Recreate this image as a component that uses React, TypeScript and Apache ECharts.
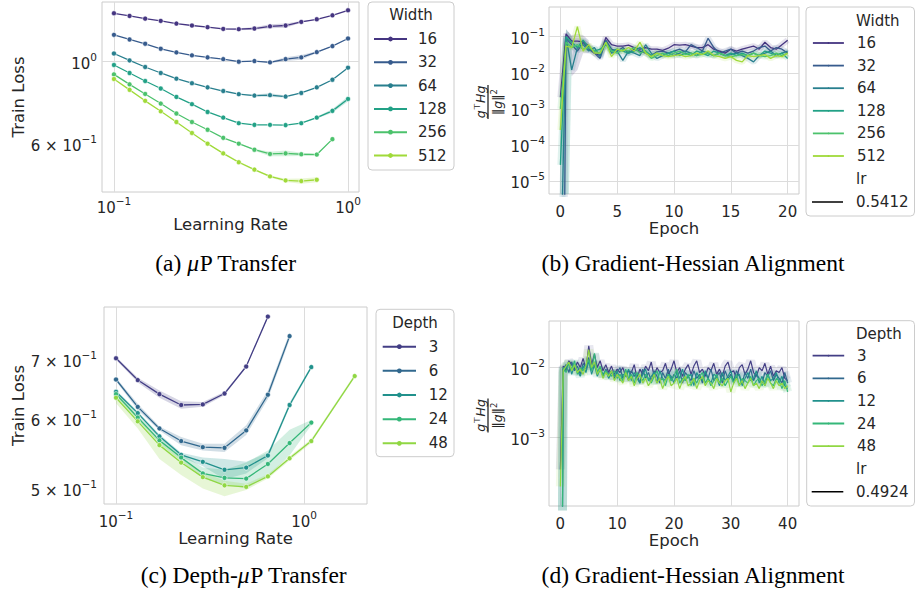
import React, { useEffect, useRef } from "react";
import * as echarts from "echarts";

const INK = "#262626";
const SANS = "DejaVu Sans";
const SERIF = "Liberation Serif";
const GRID_LINE = "#dcdcdc";
const SPINE = "#cccccc";

// ---------- (a) muP: train loss across widths vs learning rate ----------
const widthLabels = ["16", "32", "64", "128", "256", "512"];
const widthColors = ["#453581", "#375b8d", "#287f8e", "#22a186", "#4cc26c", "#a0da39"];
const lrWidthSweep = [0.1, 0.1166, 0.1359, 0.1585, 0.1848, 0.2154, 0.2512, 0.2929, 0.3415, 0.3981, 0.4642, 0.5412, 0.631, 0.7356, 0.8577, 1.0];
const lossW16 = [1.344, 1.322, 1.3, 1.282, 1.261, 1.246, 1.233, 1.22, 1.218, 1.223, 1.24, 1.246, 1.274, 1.295, 1.327, 1.369];
const lossW32 = [1.176, 1.143, 1.113, 1.079, 1.055, 1.036, 1.023, 1.012, 0.996, 1.0, 0.992, 1.012, 1.023, 1.057, 1.097, 1.15];
const lossW64 = [1.048, 1.004, 0.964, 0.929, 0.897, 0.872, 0.85, 0.831, 0.815, 0.808, 0.81, 0.803, 0.821, 0.85, 0.891, 0.96];
const lossW128 = [0.976, 0.929, 0.884, 0.844, 0.801, 0.766, 0.73, 0.705, 0.681, 0.674, 0.674, 0.673, 0.681, 0.705, 0.735, 0.791];
const lossW256 = [0.921, 0.866, 0.816, 0.769, 0.723, 0.686, 0.654, 0.622, 0.6, 0.578, 0.563, 0.565, 0.562, 0.561, 0.617];
const lossW512 = [0.895, 0.837, 0.782, 0.733, 0.686, 0.641, 0.6, 0.565, 0.535, 0.511, 0.49, 0.478, 0.476, 0.48];
// half-width of the seed interval, in percent of the mean loss
const spreadW16 = [0, 0, 0, 0, 0, 0, 0, 0.5, 0.6, 0.8, 1.2, 1.3, 0.5, 0, 0, 0];
const spreadW32 = [0, 0, 0, 0, 0, 0, 0, 0, 0, 0, 0.5, 1.2, 1.5, 0.6, 0, 0];
const spreadW64 = [0, 0, 0, 0, 0, 0, 0, 0, 0, 0.6, 1.2, 0.6, 0, 0, 0, 0];
const spreadW128 = [0, 0, 0, 0, 0, 0, 0, 0, 0, 0, 0, 0, 0, 0.6, 1.2, 1.6];
const spreadW256 = [0, 0, 0, 0, 0, 0, 0, 0, 0, 0.6, 1.4, 1.8, 1.0, 0.5, 0];
const spreadW512 = [0, 0, 0, 0, 0, 0, 0, 0.5, 0.6, 0.6, 0.6, 1.0, 1.6, 1.6];

// ---------- (b) gradient-Hessian alignment per width (logged every half epoch) ----------
const lrWidthAlign = "0.5412";
const alignW16 = [
  0.0021, 0.12, 0.075, 0.075, 0.072, 0.055, 0.035, 0.03, 0.095, 0.06,
  0.055, 0.055, 0.058, 0.05, 0.045, 0.05, 0.045, 0.045, 0.042, 0.048,
  0.06, 0.058, 0.06, 0.055, 0.05, 0.05, 0.06, 0.045, 0.04, 0.035,
  0.045, 0.04, 0.045, 0.05, 0.055, 0.045, 0.07, 0.05, 0.045, 0.06,
  0.08,
];
const alignW32 = [
  1e-20, 0.09, 0.06, 0.04, 0.07, 0.045, 0.035, 0.025, 0.08, 0.045,
  0.04, 0.05, 0.035, 0.045, 0.04, 0.035, 0.03, 0.038, 0.04, 0.035,
  0.04, 0.045, 0.038, 0.06, 0.05, 0.04, 0.09, 0.05, 0.035, 0.04,
  0.045, 0.035, 0.04, 0.035, 0.04, 0.05, 0.055, 0.04, 0.05, 0.045,
  0.035,
];
const alignW64 = [
  1e-8, 0.1, 0.012, 0.05, 0.06, 0.04, 0.05, 0.028, 0.075, 0.035,
  0.04, 0.022, 0.04, 0.035, 0.03, 0.06, 0.035, 0.025, 0.03, 0.035,
  0.03, 0.035, 0.04, 0.035, 0.03, 0.04, 0.035, 0.03, 0.035, 0.03,
  0.032, 0.035, 0.03, 0.025, 0.02, 0.03, 0.035, 0.04, 0.03, 0.035,
  0.04,
];
const alignW128 = [
  2.8e-5, 0.1, 0.07, 0.05, 0.08, 0.05, 0.04, 0.045, 0.06, 0.04,
  0.045, 0.04, 0.035, 0.04, 0.05, 0.04, 0.03, 0.035, 0.03, 0.035,
  0.04, 0.03, 0.035, 0.03, 0.04, 0.035, 0.03, 0.04, 0.035, 0.03,
  0.035, 0.03, 0.035, 0.03, 0.035, 0.03, 0.04, 0.035, 0.03, 0.035,
  0.025,
];
const alignW256 = [
  0.001, 0.07, 0.05, 0.06, 0.045, 0.05, 0.04, 0.035, 0.07, 0.04,
  0.035, 0.045, 0.04, 0.05, 0.035, 0.04, 0.025, 0.03, 0.035, 0.03,
  0.035, 0.04, 0.032, 0.035, 0.03, 0.033, 0.035, 0.03, 0.035, 0.03,
  0.028, 0.03, 0.032, 0.03, 0.035, 0.03, 0.028, 0.03, 0.035, 0.03,
  0.035,
];
const alignW512 = [
  2.6e-4, 0.055, 0.05, 0.19, 0.04, 0.06, 0.035, 0.035, 0.07, 0.028,
  0.045, 0.04, 0.05, 0.04, 0.07, 0.035, 0.028, 0.035, 0.03, 0.028,
  0.03, 0.032, 0.028, 0.03, 0.035, 0.032, 0.04, 0.03, 0.028, 0.025,
  0.028, 0.022, 0.02, 0.03, 0.028, 0.03, 0.032, 0.025, 0.03, 0.028,
  0.035,
];
// early-epoch seed intervals
const bandB16Epochs = [0.5, 1, 1.5, 2, 2.5];
const bandB16Lo = [0.07, 0.008, 0.012, 0.035, 0.035];
const bandB16Hi = [0.16, 0.11, 0.12, 0.11, 0.08];
const bandB128Epochs = [0, 0.5, 1];
const bandB128Lo = [1e-9, 1e-9, 0.02];
const bandB128Hi = [3e-4, 0.16, 0.1];

// ---------- (c) depth-muP: train loss across depths vs learning rate ----------
const depthLabels = ["3", "6", "12", "24", "48"];
const depthColors = ["#433e85", "#31688e", "#21918c", "#35b779", "#90d743"];
const lrDepthSweep = [0.1, 0.1305, 0.1702, 0.222, 0.2896, 0.3778, 0.4924, 0.6424, 0.8381, 1.0933, 1.4262, 1.8605];
const lossD3 = [0.703, 0.664, 0.64, 0.622, 0.623, 0.641, 0.688, 0.784];
const lossD6 = [0.665, 0.619, 0.585, 0.566, 0.557, 0.556, 0.582, 0.639, 0.745];
const lossD12 = [0.644, 0.609, 0.573, 0.546, 0.536, 0.525, 0.528, 0.545, 0.622, 0.687];
const lossD24 = [0.64, 0.602, 0.567, 0.542, 0.52, 0.514, 0.513, 0.533, 0.563, 0.594];
const lossD48 = [0.634, 0.596, 0.56, 0.535, 0.515, 0.504, 0.502, 0.516, 0.541, 0.566, null, 0.671];
const loD3 = [0.7, 0.66, 0.634, 0.616, 0.619, 0.638, 0.686, 0.782];
const hiD3 = [0.706, 0.668, 0.646, 0.628, 0.627, 0.644, 0.69, 0.786];
const loD6 = [0.662, 0.614, 0.582, 0.56, 0.552, 0.55, 0.575, 0.632, 0.738];
const hiD6 = [0.668, 0.624, 0.588, 0.572, 0.562, 0.562, 0.59, 0.646, 0.752];
const loD12 = [0.641, 0.606, 0.57, 0.543, 0.53, 0.512, 0.52, 0.541, 0.618, 0.684];
const hiD12 = [0.647, 0.612, 0.576, 0.549, 0.542, 0.54, 0.536, 0.549, 0.626, 0.69];
const loD24 = [0.636, 0.598, 0.562, 0.537, 0.513, 0.505, 0.5, 0.516, 0.545, 0.59];
const hiD24 = [0.644, 0.606, 0.572, 0.548, 0.528, 0.525, 0.535, 0.552, 0.583, 0.598];
const loD48 = [0.625, 0.585, 0.54, 0.518, 0.5, 0.49, 0.498, 0.513, 0.538, 0.563, null, 0.668];
const hiD48 = [0.642, 0.604, 0.566, 0.542, 0.522, 0.51, 0.506, 0.519, 0.544, 0.569, null, 0.674];

// ---------- (d) alignment per depth, in units of 1e-3 (logged every half epoch) ----------
const lrDepthAlign = "0.4924";
const ALIGN_D_UNIT = 1e-3;
const alignD3 = [
  0.35, 10.5, 9.0, 12.5, 11.0, 9.5, 12.0, 10.0, 13.5, 9.5,
  20.5, 11.0, 15.5, 10.0, 12.5, 9.0, 11.0, 8.5, 10.5, 8.0,
  9.5, 8.5, 10.0, 7.5, 9.0, 8.5, 11.0, 7.0, 9.5, 8.0,
  10.5, 9.0, 12.0, 7.5, 10.0, 8.5, 9.0, 11.5, 8.0, 9.5,
  12.5, 8.5, 10.0, 7.5, 9.5, 11.0, 8.0, 10.5, 12.5, 8.5,
  9.5, 7.5, 10.0, 9.0, 11.5, 8.0, 9.5, 7.5, 10.5, 12.0,
  8.5, 9.0, 7.0, 10.0, 11.0, 8.0, 9.5, 12.5, 8.5, 7.5,
  10.0, 9.0, 11.5, 8.0, 10.5, 7.5, 9.0, 8.5, 10.0, 7.0,
  6.5,
];
const alignD6 = [
  1e-7, 9.5, 11.0, 8.5, 12.0, 9.0, 10.5, 8.0, 11.5, 10.0,
  14.0, 9.5, 12.0, 8.5, 10.0, 7.5, 9.5, 8.0, 9.0, 7.0,
  8.5, 10.0, 7.0, 8.5, 6.5, 9.0, 7.5, 8.0, 6.0, 9.5,
  7.0, 8.5, 6.5, 9.0, 7.5, 6.0, 8.5, 7.0, 9.5, 6.5,
  8.0, 7.0, 9.0, 6.0, 8.5, 7.5, 6.5, 9.0, 7.0, 8.0,
  6.0, 8.5, 7.0, 9.5, 6.5, 7.5, 8.5, 6.0, 9.0, 7.0,
  8.0, 6.5, 9.0, 7.5, 6.0, 8.5, 7.0, 9.5, 6.5, 8.0,
  7.0, 6.0, 8.5, 7.5, 9.0, 6.5, 8.0, 7.0, 6.0, 8.5,
  6.0,
];
const alignD12 = [
  1e-7, 8.5, 10.0, 12.0, 8.0, 11.0, 9.0, 7.5, 10.5, 8.5,
  12.5, 8.0, 11.0, 7.5, 9.5, 8.0, 9.0, 7.0, 8.5, 7.5,
  9.0, 6.5, 8.0, 7.5, 9.5, 6.5, 8.5, 7.0, 6.0, 8.0,
  9.5, 6.5, 7.5, 8.5, 6.0, 9.0, 7.0, 6.5, 8.0, 7.5,
  6.0, 8.5, 7.0, 9.5, 6.5, 7.5, 8.0, 5.5, 8.5, 7.0,
  6.5, 9.0, 7.0, 6.0, 8.0, 7.5, 5.5, 8.5, 6.5, 7.5,
  9.0, 6.0, 7.5, 8.0, 5.5, 7.0, 8.5, 6.5, 7.0, 9.0,
  6.0, 7.5, 5.5, 8.0, 6.5, 7.0, 8.5, 6.0, 7.5, 5.5,
  5.0,
];
const alignD24 = [
  1e-7, 10.0, 8.5, 11.5, 9.5, 12.5, 8.0, 10.0, 9.0, 11.0,
  13.0, 9.0, 16.0, 8.5, 10.5, 7.5, 9.0, 8.0, 7.5, 9.0,
  7.0, 8.0, 6.5, 9.5, 7.0, 8.0, 6.0, 8.5, 7.5, 6.5,
  8.0, 7.0, 6.0, 7.5, 9.0, 6.5, 7.0, 5.5, 8.0, 6.5,
  7.5, 9.5, 6.0, 7.0, 6.5, 8.0, 5.5, 7.0, 6.0, 7.5,
  8.5, 6.0, 7.0, 5.5, 6.5, 8.0, 6.0, 7.0, 5.5, 6.5,
  7.5, 6.0, 8.0, 5.5, 7.0, 6.5, 6.0, 7.5, 5.5, 6.5,
  7.0, 5.5, 6.5, 8.0, 6.0, 5.5, 7.0, 6.5, 5.0, 6.5,
  4.5,
];
const alignD48 = [
  0.2, 9.0, 10.5, 12.0, 9.0, 11.0, 8.5, 9.5, 8.0, 10.5,
  18.0, 10.0, 12.0, 8.0, 9.5, 7.0, 8.5, 7.5, 9.0, 6.5,
  8.0, 7.0, 6.0, 8.5, 6.5, 7.5, 5.5, 7.0, 8.0, 6.0,
  7.0, 5.5, 6.5, 8.0, 6.0, 7.0, 5.0, 6.5, 7.5, 5.5,
  6.0, 7.0, 5.0, 6.5, 7.5, 5.5, 6.0, 7.0, 5.0, 6.5,
  7.5, 5.5, 6.5, 6.0, 5.0, 7.0, 6.0, 5.5, 6.5, 7.0,
  4.5, 6.0, 7.0, 5.5, 6.5, 5.0, 6.0, 7.0, 5.5, 6.0,
  5.0, 6.5, 5.5, 7.0, 6.0, 5.0, 6.5, 5.5, 6.0, 5.0,
  5.5,
];

const lossByWidth = [lossW16, lossW32, lossW64, lossW128, lossW256, lossW512];
const spreadByWidth = [spreadW16, spreadW32, spreadW64, spreadW128, spreadW256, spreadW512];
const alignByWidth = [alignW16, alignW32, alignW64, alignW128, alignW256, alignW512];
const lossByDepth = [lossD3, lossD6, lossD12, lossD24, lossD48];
const loByDepth = [loD3, loD6, loD12, loD24, loD48];
const hiByDepth = [hiD3, hiD6, hiD12, hiD24, hiD48];
const alignByDepth = [alignD3, alignD6, alignD12, alignD24, alignD48];

const EPOCHS_PER_LOG = 0.5;

// ---------- helpers ----------
const rgba = (hex: string, a: number) => {
  const n = parseInt(hex.slice(1), 16);
  return `rgba(${(n >> 16) & 255},${(n >> 8) & 255},${n & 255},${a})`;
};

const tickRich = {
  b: { fontFamily: SANS, fontSize: 15, color: INK, lineHeight: 20, verticalAlign: "bottom" },
  s: { fontFamily: SANS, fontSize: 10.5, color: INK, lineHeight: 12, verticalAlign: "top" },
};

function logTick(v: number): string {
  const e = Math.floor(Math.log10(v) + 1e-9);
  const m = Math.round(v / Math.pow(10, e));
  const ex = e < 0 ? "\u2212" + String(-e) : String(e);
  return m === 1 ? `{b|10}{s|${ex}}` : `{b|${m} \u00d7 10}{s|${ex}}`;
}
const linTick = (v: number) => `{b|${v}}`;

function makeAxis(o: {
  gridIndex: number; type: "log" | "value"; min: number; max: number;
  labels: number[]; lines: number[]; margin: number; vertical: boolean;
  name?: string; nameGap?: number;
}) {
  return {
    type: o.type, gridIndex: o.gridIndex, min: o.min, max: o.max, logBase: 10,
    name: o.name, nameLocation: "middle", nameGap: o.nameGap, nameRotate: o.vertical ? 90 : 0,
    nameTextStyle: { fontFamily: SANS, fontSize: 16.5, color: INK },
    axisLine: { show: false },
    axisTick: { show: false, customValues: o.lines },
    axisLabel: {
      customValues: o.labels, margin: o.margin, rich: tickRich,
      formatter: o.type === "log" ? logTick : linTick,
    },
    splitLine: { show: o.lines.length > 0, lineStyle: { color: GRID_LINE, width: 1 } },
    minorTick: { show: false }, minorSplitLine: { show: false },
  };
}

function bandSeries(name: string, xs: number[], lo: (number | null)[], hi: (number | null)[], color: string, axis: number, alpha: number) {
  const idx = xs.map((_, i) => i).filter((i) => lo[i] != null && hi[i] != null);
  return {
    type: "custom", name, xAxisIndex: axis, yAxisIndex: axis, clip: true, silent: true, z: 1,
    data: idx.map((i) => [xs[i], lo[i], hi[i]]),
    encode: { x: 0, y: [1, 2] },
    renderItem: (params: any, api: any) => {
      if (params.dataIndex !== 0) return null;
      const top = idx.map((i) => api.coord([xs[i], hi[i]]));
      const bottom = idx.map((i) => api.coord([xs[i], lo[i]])).reverse();
      return { type: "polygon", shape: { points: top.concat(bottom) }, style: { fill: rgba(color, alpha), stroke: "none" } };
    },
  };
}

function sweepLine(name: string, xs: number[], ys: (number | null)[], color: string, axis: number) {
  return {
    type: "line", name, xAxisIndex: axis, yAxisIndex: axis, z: 3,
    data: ys.map((y, i) => [xs[i], y]).filter((p) => p[1] != null),
    symbol: "circle", symbolSize: 5, showSymbol: true,
    lineStyle: { color, width: 1.3 },
    itemStyle: { color, borderColor: "#ffffff", borderWidth: 0.6 },
  };
}

function traceLine(name: string, ys: number[], unit: number, color: string, axis: number, width: number, alpha: number, z: number) {
  return {
    type: "line", name, xAxisIndex: axis, yAxisIndex: axis, z,
    data: ys.map((y, i) => [i * EPOCHS_PER_LOG, y * unit]),
    symbol: "none", showSymbol: false,
    lineStyle: { color: rgba(color, alpha), width },
    itemStyle: { color },
  };
}

function legendBlock(data: string[], left: number, top: number, itemWidth: number, itemHeight: number, itemGap: number, textPad: number, lineWidth?: number) {
  return {
    orient: "vertical", left, top, itemWidth, itemHeight, itemGap, padding: 0, data,
    selectedMode: false,
    formatter: (n: string) => n.split(":")[1],
    textStyle: { fontFamily: SANS, fontSize: 15, color: INK, lineHeight: 16, padding: [0, 0, 0, textPad] },
    itemStyle: { borderWidth: 0 },
    ...(lineWidth ? { lineStyle: { width: lineWidth } } : {}),
  };
}

const legendBox = (x: number, y: number, w: number, h: number) => ({
  type: "rect", z: 0, shape: { x, y, width: w, height: h, r: 4 },
  style: { fill: "rgba(255,255,255,0.8)", stroke: SPINE, lineWidth: 1 },
});
const note = (text: string, x: number, y: number, align: string) => ({
  type: "text", z: 5, x, y,
  style: { text, fontFamily: SANS, fontSize: 15, fill: INK, align, verticalAlign: "middle" },
});
const legendStroke = (x1: number, x2: number, y: number) => ({
  type: "line", z: 5, shape: { x1, y1: y, x2, y2: y }, style: { stroke: "#000000", lineWidth: 1.5 },
});

// g^T H g / ||g||^2, written sideways beside the log axis
const fracRich = {
  i: { fontFamily: SANS, fontStyle: "italic", fontSize: 12.5, fill: INK, lineHeight: 15, verticalAlign: "bottom" },
  n: { fontFamily: SANS, fontSize: 12.5, fill: INK, lineHeight: 15, verticalAlign: "bottom" },
  s: { fontFamily: SANS, fontSize: 8.5, fill: INK, lineHeight: 10, verticalAlign: "top" },
};
const fraction = (x: number, y: number) => ({
  type: "group", x, y, rotation: Math.PI / 2, z: 5,
  children: [
    { type: "text", x: 0, y: -1, style: { text: "{i|g}{s|\u22a4}{i|Hg}", rich: fracRich, align: "center", verticalAlign: "bottom" } },
    { type: "line", shape: { x1: -17, y1: 0, x2: 17, y2: 0 }, style: { stroke: INK, lineWidth: 1.3 } },
    { type: "text", x: 0, y: 1, style: { text: "{n|\u2016}{i|g}{n|\u2016}{s|2}", rich: fracRich, align: "center", verticalAlign: "top" } },
  ],
});

const CAP_SIZE = 23.5;
const capRich = {
  r: { fontFamily: SERIF, fontSize: CAP_SIZE, fill: "#000000" },
  it: { fontFamily: SERIF, fontSize: CAP_SIZE, fontStyle: "italic", fill: "#000000" },
};
// caption with an italic mu between the two plain parts
const muCaption = (before: string, after: string, x: number, y: number) => ({
  type: "text", x, y, z: 5,
  style: { text: `{r|${before}}{it|\u03bc}{r|${after}}`, rich: capRich, align: "center", verticalAlign: "middle" },
});
const plainCaption = (text: string, x: number, y: number) => ({
  type: "text", x, y, z: 5,
  style: { text: `{r|${text}}`, rich: capRich, align: "center", verticalAlign: "middle" },
});

function buildOption() {
  const series: any[] = [];

  widthLabels.forEach((w, k) => {
    const ys = lossByWidth[k];
    const sp = spreadByWidth[k];
    const xs = lrWidthSweep.slice(0, ys.length);
    series.push(bandSeries(`a-band:${w}`, xs, ys.map((y, i) => y * (1 - sp[i] / 100)), ys.map((y, i) => y * (1 + sp[i] / 100)), widthColors[k], 0, 0.22));
  });
  widthLabels.forEach((w, k) => series.push(sweepLine(`a:${w}`, lrWidthSweep, lossByWidth[k], widthColors[k], 0)));

  series.push(bandSeries("b-band:16", bandB16Epochs, bandB16Lo, bandB16Hi, widthColors[0], 1, 0.18));
  series.push(bandSeries("b-band:128", bandB128Epochs, bandB128Lo, bandB128Hi, widthColors[3], 1, 0.22));
  widthLabels.forEach((w, k) => series.push(traceLine(`b-halo:${w}`, alignByWidth[k], 1, widthColors[k], 1, 6, 0.14, 2)));
  widthLabels.forEach((w, k) => series.push(traceLine(`b:${w}`, alignByWidth[k], 1, widthColors[k], 1, 1.3, 1, 3)));

  depthLabels.forEach((d, k) => series.push(bandSeries(`c-band:${d}`, lrDepthSweep, loByDepth[k], hiByDepth[k], depthColors[k], 2, 0.22)));
  depthLabels.forEach((d, k) => series.push(sweepLine(`c:${d}`, lrDepthSweep, lossByDepth[k], depthColors[k], 2)));

  depthLabels.forEach((d, k) => series.push(traceLine(`d-halo:${d}`, alignByDepth[k], ALIGN_D_UNIT, depthColors[k], 3, 9, 0.12, 2)));
  depthLabels.forEach((d, k) => series.push(traceLine(`d:${d}`, alignByDepth[k], ALIGN_D_UNIT, depthColors[k], 3, 1.2, 1, 3)));

  const grid = (left: number, top: number, width: number, height: number) => ({
    left, top, width, height, show: true, borderColor: SPINE, borderWidth: 1, backgroundColor: "transparent",
  });

  return {
    animation: false,
    textStyle: { fontFamily: SANS, color: INK },
    grid: [grid(102, 2, 257, 190), grid(549, 7, 250, 187), grid(104, 307, 263, 197), grid(549, 321, 250, 185)],
    xAxis: [
      makeAxis({ gridIndex: 0, type: "log", min: 0.0889, max: 1.114, labels: [0.1, 1], lines: [0.1, 1], margin: 3, vertical: false, name: "Learning Rate", nameGap: 22 }),
      makeAxis({ gridIndex: 1, type: "value", min: -1, max: 21, labels: [0, 5, 10, 15, 20], lines: [0, 5, 10, 15, 20], margin: 5, vertical: false, name: "Epoch", nameGap: 23 }),
      makeAxis({ gridIndex: 2, type: "log", min: 0.0863, max: 2.163, labels: [0.1, 1], lines: [0.1, 1], margin: 5, vertical: false, name: "Learning Rate", nameGap: 26 }),
      makeAxis({ gridIndex: 3, type: "value", min: -2, max: 42, labels: [0, 10, 20, 30, 40], lines: [0, 10, 20, 30, 40], margin: 5, vertical: false, name: "Epoch", nameGap: 24 }),
    ],
    yAxis: [
      makeAxis({ gridIndex: 0, type: "log", min: 0.445, max: 1.441, labels: [0.6, 1], lines: [1], margin: 5, vertical: true, name: "Train Loss", nameGap: 73 }),
      makeAxis({ gridIndex: 1, type: "log", min: 4.36e-6, max: 0.665, labels: [1e-5, 1e-4, 1e-3, 1e-2, 1e-1], lines: [1e-5, 1e-4, 1e-3, 1e-2, 1e-1], margin: 4, vertical: true }),
      makeAxis({ gridIndex: 2, type: "log", min: 0.48, max: 0.804, labels: [0.5, 0.6, 0.7], lines: [], margin: 7, vertical: true, name: "Train Loss", nameGap: 75 }),
      makeAxis({ gridIndex: 3, type: "log", min: 1.05e-4, max: 0.0463, labels: [1e-3, 1e-2], lines: [1e-3, 1e-2], margin: 4, vertical: true }),
    ],
    legend: [
      legendBlock(widthLabels.map((w) => `a:${w}`), 373, 31, 33, 6, 7.3, 6),
      legendBlock(widthLabels.map((w) => `b:${w}`), 812, 35, 31, 2, 6.6, 8, 1.8),
      legendBlock(depthLabels.map((d) => `c:${d}`), 381.7, 338.7, 33.3, 6, 8.15, 7.7),
      legendBlock(depthLabels.map((d) => `d:${d}`), 811.7, 347.7, 31.6, 2, 6.6, 7.7, 1.8),
    ],
    graphic: [
      legendBox(368, 2, 86, 168),
      legendBox(806, 7, 108.5, 209),
      legendBox(376, 309.3, 78, 147.4),
      legendBox(806.7, 320.7, 107.8, 185.3),
      note("Width", 411, 15, "center"),
      note("Width", 856, 21, "left"),
      note("lr", 856, 179, "left"),
      note(lrWidthAlign, 856, 202, "left"),
      legendStroke(812, 843, 202),
      note("Depth", 415, 322.7, "center"),
      note("Depth", 856, 334, "left"),
      note("lr", 856, 469, "left"),
      note(lrDepthAlign, 856, 491.7, "left"),
      legendStroke(811.7, 843.3, 491.7),
      fraction(488, 102),
      fraction(488, 415.5),
      muCaption("(a) ", "P Transfer", 226, 263),
      plainCaption("(b) Gradient-Hessian Alignment", 693, 263),
      muCaption("(c) Depth-", "P Transfer", 244, 575),
      plainCaption("(d) Gradient-Hessian Alignment", 693, 575),
    ],
    series,
  };
}

export default function App() {
  const ref = useRef<HTMLDivElement>(null);
  useEffect(() => {
    if (!ref.current) return;
    const chart = echarts.init(ref.current, undefined, { renderer: "svg" });
    chart.setOption(buildOption() as any);
    return () => chart.dispose();
  }, []);
  return (
    <div
      ref={ref}
      style={{ position: "fixed", left: 0, top: 0, width: 915, height: 592, background: "#ffffff" }}
    />
  );
}
